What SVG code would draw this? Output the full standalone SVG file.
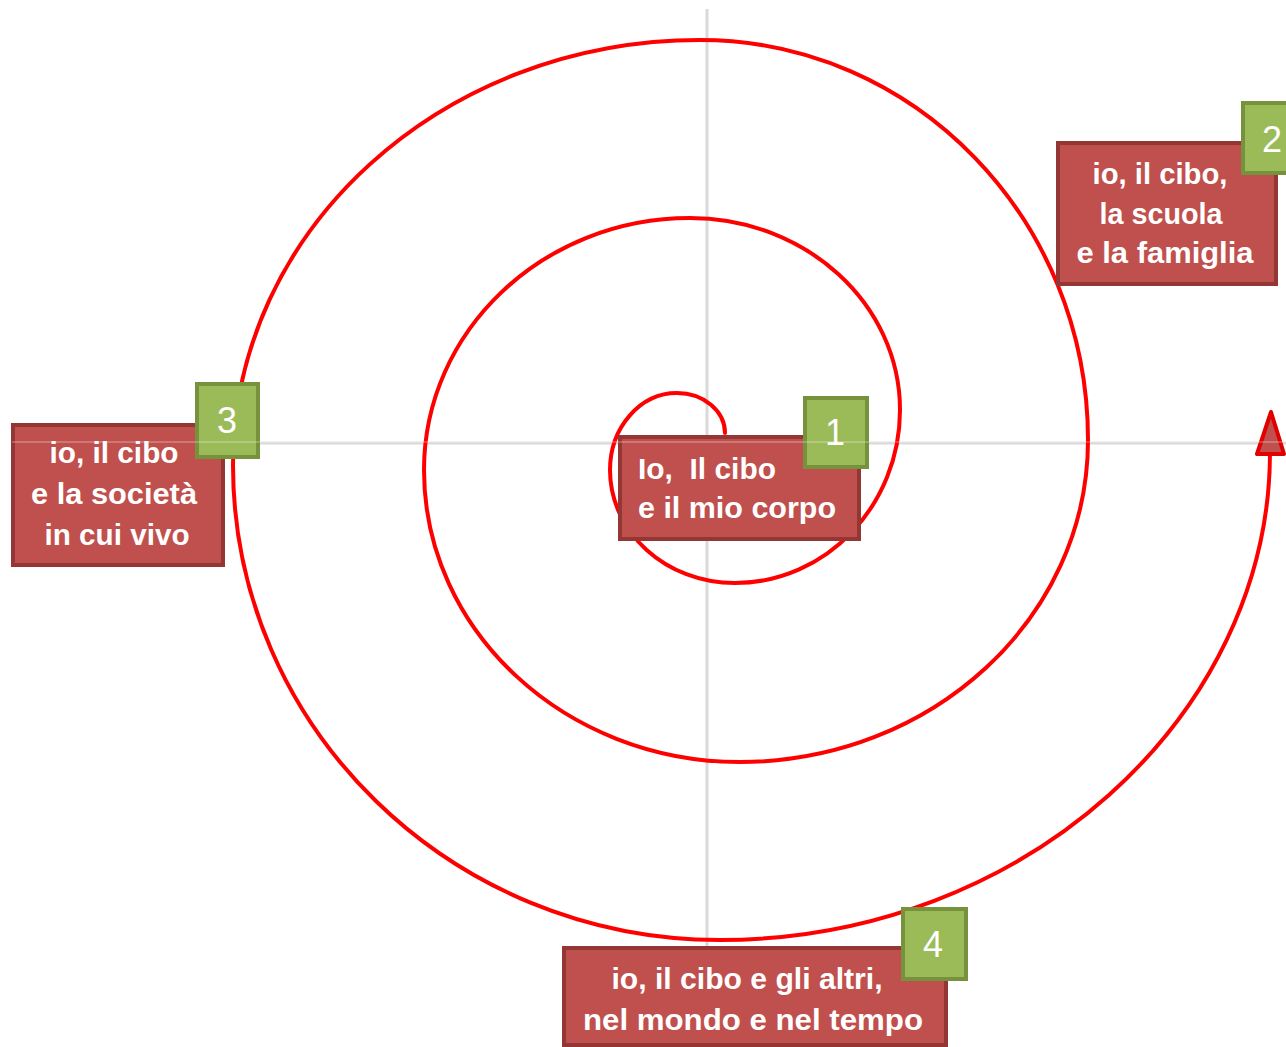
<svg xmlns="http://www.w3.org/2000/svg" width="1286" height="1047" viewBox="0 0 1286 1047">
<style>
.axis{stroke:#d9d9d9;stroke-width:3;fill:none}
.spiral{stroke:#ff0000;stroke-width:4;fill:none;stroke-linecap:round}
.box{fill:#c0504d;stroke:#943634;stroke-width:4}
.num{fill:#9bbb59;stroke:#76923c;stroke-width:4}
.t{font-family:"Liberation Sans",Arial,sans-serif;font-weight:bold;font-size:30px;fill:#ffffff;white-space:pre}
.n{font-family:"Liberation Sans",Arial,sans-serif;font-size:36px;fill:#ffffff;text-anchor:middle}
</style>
<rect width="1286" height="1047" fill="#ffffff"/>
<g id="axes">
<line class="axis" x1="707" y1="9" x2="707" y2="948"/>
<line class="axis" x1="12" y1="443" x2="1286" y2="443"/>
</g>
<g id="connectors">
<path class="spiral" d="M725,433 C725,411 703.5,393 677,393 C640,393 610,427.5 610,470 C610,532.4 666,583 735,583 C826,583 900,505.5 900,410 C900,304 806,218 690,218 C543,218 424,331 424,470 C424,631 565.6,762 740,762 C932,762 1088,618 1088,440 C1088,219 914,40 700,40 C442,40 233,230 233,465 C233,727 451,940 720,940 C1024,940 1270,716 1270,452"/>
<polygon points="1271,412 1257,454 1284,454" fill="#c0504d" stroke="#e00000" stroke-width="4" stroke-linejoin="round"/>
</g>
<g id="node1">
<rect class="box" x="620" y="437" width="239" height="102"/>
<text class="t" x="638" y="479" textLength="138" lengthAdjust="spacingAndGlyphs">Io,  Il cibo</text>
<text class="t" x="638" y="518" textLength="198" lengthAdjust="spacingAndGlyphs">e il mio corpo</text>
<rect class="num" x="805" y="398" width="62" height="69"/>
<text class="n" x="835" y="445">1</text>
</g>
<g id="node2">
<rect class="box" x="1058" y="143" width="218" height="141"/>
<text class="t" x="1160" y="184" text-anchor="middle" textLength="135" lengthAdjust="spacingAndGlyphs">io, il cibo,</text>
<text class="t" x="1161" y="224" text-anchor="middle" textLength="123" lengthAdjust="spacingAndGlyphs">la scuola</text>
<text class="t" x="1165" y="263" text-anchor="middle" textLength="177" lengthAdjust="spacingAndGlyphs">e la famiglia</text>
<rect class="num" x="1243" y="103" width="62" height="70"/>
<text class="n" x="1272" y="152">2</text>
</g>
<g id="node3">
<rect class="box" x="13" y="425" width="210" height="140"/>
<text class="t" x="114" y="463" text-anchor="middle" textLength="129" lengthAdjust="spacingAndGlyphs">io, il cibo</text>
<text class="t" x="114" y="504" text-anchor="middle" textLength="166" lengthAdjust="spacingAndGlyphs">e la società</text>
<text class="t" x="117" y="545" text-anchor="middle" textLength="145" lengthAdjust="spacingAndGlyphs">in cui vivo</text>
<rect class="num" x="197" y="384" width="61" height="73"/>
<text class="n" x="227" y="433">3</text>
</g>
<g id="node4">
<rect class="box" x="564" y="948" width="382" height="97"/>
<text class="t" x="747" y="989" text-anchor="middle" textLength="271" lengthAdjust="spacingAndGlyphs">io, il cibo e gli altri,</text>
<text class="t" x="753" y="1030" text-anchor="middle" textLength="340" lengthAdjust="spacingAndGlyphs">nel mondo e nel tempo</text>
<rect class="num" x="903" y="909" width="63" height="70"/>
<text class="n" x="933" y="957">4</text>
</g>
<line x1="12" y1="442" x2="1286" y2="442" stroke="#ffffff" stroke-opacity="0.45" stroke-width="1"/>
</svg>
